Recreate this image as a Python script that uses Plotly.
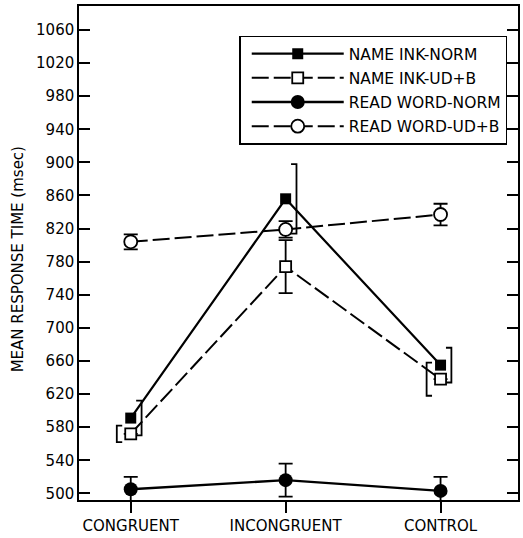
import plotly.graph_objects as go

# ---- data ----
categories = ["CONGRUENT", "INCONGRUENT", "CONTROL"]

name_ink_norm = [591, 856, 655]
name_ink_norm_err = [21, 42, 21]

name_ink_udb = [572, 774, 638]
name_ink_udb_err = [10, 32, 20]

read_word_norm = [505, 516, 503]
read_word_norm_err = [15, 20, 17]

read_word_udb = [804, 819, 837]
read_word_udb_err = [9, 10, 13]

y_tick_values = [500, 540, 580, 620, 660, 700, 740, 780, 820, 860, 900, 940, 980, 1020, 1060]
y_title = "MEAN RESPONSE TIME (msec)"

# ---- drawing ----
xpos = list(range(len(categories)))
FONT = "DejaVu Sans"
BLACK = "black"


def bracket_path(xs, ys, errs, idx, offset, cap):
    """Build a '[' or ']' shaped error bracket beside each point."""
    px, py = [], []
    for i in idx:
        xb = xs[i] + offset
        xc = xb - cap if offset > 0 else xb + cap
        px += [xc, xb, xb, xc, None]
        py += [ys[i] + errs[i], ys[i] + errs[i], ys[i] - errs[i], ys[i] - errs[i], None]
    return px, py


fig = go.Figure()

# brackets for NAME INK-NORM (right side)
bx, by = bracket_path(xpos, name_ink_norm, name_ink_norm_err, [0, 1, 2], 0.07, 0.035)
fig.add_trace(go.Scatter(x=bx, y=by, mode="lines", line=dict(color=BLACK, width=1.8),
                         showlegend=False, hoverinfo="skip"))
# brackets for NAME INK-UD+B (left side) at congruent / control
bx, by = bracket_path(xpos, name_ink_udb, name_ink_udb_err, [0, 2], -0.09, 0.035)
fig.add_trace(go.Scatter(x=bx, y=by, mode="lines", line=dict(color=BLACK, width=1.8),
                         showlegend=False, hoverinfo="skip"))

udb_center_err = [0 if i in (0, 2) else e for i, e in enumerate(name_ink_udb_err)]

fig.add_trace(go.Scatter(
    x=xpos, y=name_ink_norm, name="NAME INK-NORM", mode="lines+markers",
    line=dict(color=BLACK, width=2.2),
    marker=dict(symbol="square", size=11, color=BLACK),
    legendgroup="a", cliponaxis=False,
))
fig.add_trace(go.Scatter(
    x=xpos, y=name_ink_udb, name="NAME INK-UD+B", mode="lines+markers",
    line=dict(color=BLACK, width=2, dash="17px,5px"),
    marker=dict(symbol="square", size=11, color="white", line=dict(color=BLACK, width=1.8)),
    error_y=dict(type="data", array=udb_center_err, color=BLACK, thickness=1.8, width=7),
    legendgroup="b", cliponaxis=False,
))
fig.add_trace(go.Scatter(
    x=xpos, y=read_word_norm, name="READ WORD-NORM", mode="lines+markers",
    line=dict(color=BLACK, width=2.4),
    marker=dict(symbol="circle", size=14, color=BLACK),
    error_y=dict(type="data", array=read_word_norm_err, color=BLACK, thickness=1.8, width=7),
    legendgroup="c", cliponaxis=False,
))
fig.add_trace(go.Scatter(
    x=xpos, y=read_word_udb, name="READ WORD-UD+B", mode="lines+markers",
    line=dict(color=BLACK, width=2, dash="17px,5px"),
    marker=dict(symbol="circle", size=13, color="white", line=dict(color=BLACK, width=1.8)),
    error_y=dict(type="data", array=read_word_udb_err, color=BLACK, thickness=1.8, width=7),
    legendgroup="d", cliponaxis=False,
))

fig.update_layout(
    width=523, height=538,
    margin=dict(l=79, r=3, t=6, b=34),
    paper_bgcolor="white", plot_bgcolor="white",
    font=dict(family=FONT, size=15, color=BLACK),
    showlegend=True,
    legend=dict(
        x=0.365, y=0.94, xanchor="left", yanchor="top",
        bordercolor=BLACK, borderwidth=1.5, bgcolor="white",
        font=dict(family=FONT, size=15.5, color=BLACK),
        itemwidth=92, indentation=6, tracegroupgap=1,
        traceorder="grouped",
    ),
    xaxis=dict(
        range=[-0.334, 2.50],
        tickmode="array", tickvals=xpos, ticktext=categories,
        ticks="outside", ticklen=11, tickwidth=1.5, tickcolor=BLACK,
        showline=True, linecolor=BLACK, linewidth=1.5, mirror=True,
        showgrid=False, zeroline=False,
        tickfont=dict(family=FONT, size=15, color=BLACK),
    ),
    yaxis=dict(
        range=[492, 1089],
        tickmode="array", tickvals=y_tick_values,
        ticks="inside", ticklen=11, tickwidth=1.5, tickcolor=BLACK,
        showline=True, linecolor=BLACK, linewidth=1.5, mirror="ticks",
        showgrid=False, zeroline=False,
        tickfont=dict(family=FONT, size=15, color=BLACK),
    ),
    annotations=[dict(
        text=y_title, textangle=-90, showarrow=False,
        xref="paper", yref="paper", x=-0.138, y=0.488,
        xanchor="center", yanchor="middle",
        font=dict(family=FONT, size=15, color=BLACK),
    )],
)

fig.write_html("out.html")
